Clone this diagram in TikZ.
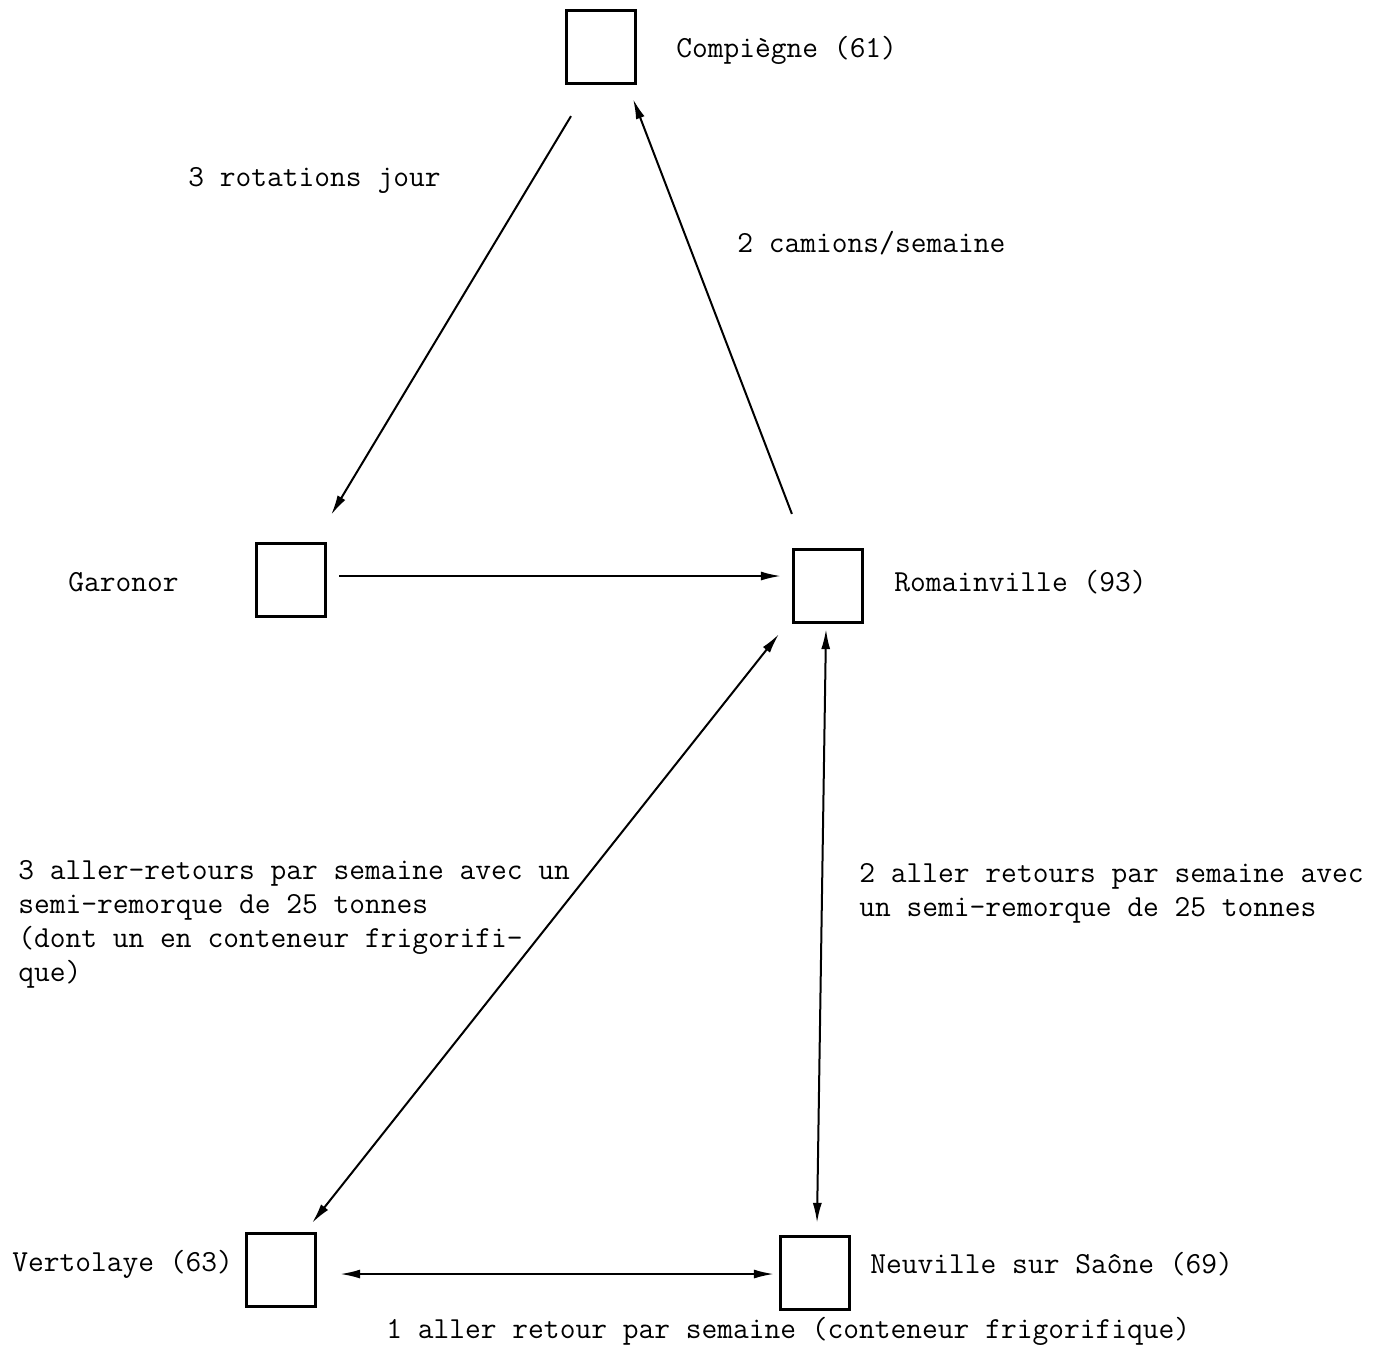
\documentclass[tikz,border=0pt]{standalone}
\usepackage{fontspec}
\usetikzlibrary{arrows.meta,calc}

\tikzset{
  site/.style={draw, line width=1.1pt, minimum width=34.5pt, minimum height=36.5pt, inner sep=0pt},
  lbl/.style={anchor=base west, inner sep=0pt, align=left, font=\ttfamily\fontsize{15.3}{16.85}\selectfont},
  flow/.style={line width=1pt, -{Latex[length=10pt,width=4.5pt]}},
  both/.style={line width=1pt, {Latex[length=10pt,width=4.5pt]}-{Latex[length=10pt,width=4.5pt]}}
}

\begin{document}
\begin{tikzpicture}[x=0.5pt, y=-0.5pt]
  \useasboundingbox (0,0) rectangle (1390,1346);
  % sites
  \node[site] (comp) at (601,47) {};
  \node[site] (gar) at (291,580) {};
  \node[site] (rom) at (828,586) {};
  \node[site] (ver) at (281,1270) {};
  \node[site] (neu) at (815,1273) {};
  \node[lbl] (tcomp) at (676,57) {Compiègne (61)};
  \node[lbl] (tgar) at (68,591) {Garonor};
  \node[lbl] (trom) at (894,591) {Romainville (93)};
  \node[lbl] (tver) at (12,1271) {Vertolaye (63)};
  \node[lbl] (tneu) at (870,1273) {Neuville sur Saône (69)};
  % flows
  \draw[flow] ($(comp.south)+(-30,31.5)$) -- ($(gar.north east)+(4.5,-27.5)$);
  \draw[flow] ($(rom.north west)+(-0.5,-34.5)$) -- ($(comp.south east)+(-3.5,14.5)$);
  \draw[flow] ($(gar.east)+(12.5,-4)$) -- ($(rom.west)+(-11.5,-10)$);
  \draw[both] ($(rom.south west)+(-13.5,10.5)$) -- ($(ver.north east)+(-4.5,-9.5)$);
  \draw[both] ($(rom.south)+(-2,5.5)$) -- ($(neu.north)+(2,-12.5)$);
  \draw[both] ($(ver.east)+(23.5,4)$) -- ($(neu.west)+(-5.5,1)$);
  % labels
  \node[lbl] (rot) at (188,186) {3 rotations jour};
  \node[lbl] (cam) at (737,252) {2 camions/semaine};
  \node[lbl] (arv) at (18,981) {3 aller-retours par semaine avec un\\semi-remorque de 25 tonnes\\(dont un en conteneur frigorifi-\\que)};
  \node[lbl] (arn) at (859,916) {2 aller retours par semaine avec\\un semi-remorque de 25 tonnes};
  \node[lbl] (arb) at (386,1338) {1 aller retour par semaine (conteneur frigorifique)};
\end{tikzpicture}
\end{document}
